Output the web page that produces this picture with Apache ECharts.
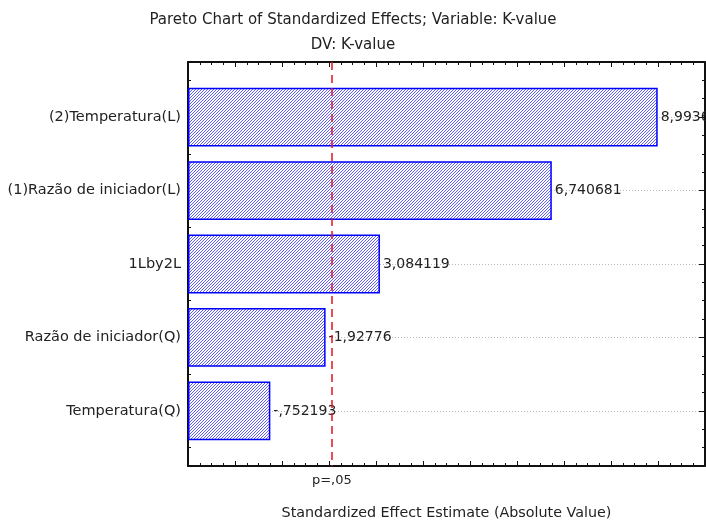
<!DOCTYPE html>
<html><head><meta charset="utf-8">
<script src="https://cdn.jsdelivr.net/npm/echarts@6/dist/echarts.min.js"></script>
<style>html,body{margin:0;padding:0;background:#fff}#c{width:706px;height:521px}</style>
</head><body><div id="c"></div>
<script>
// ---- data ----
const categories = ['(2)Temperatura(L)', '(1)Razão de iniciador(L)', '1Lby2L', 'Razão de iniciador(Q)', 'Temperatura(Q)'];
const effects = [8.9936, 6.740681, 3.084119, -1.92776, -0.752193];
const pCritical = 2.056;
const pLabel = 'p=,05';
const titleText = 'Pareto Chart of Standardized Effects; Variable: K-value';
const subTitleText = 'DV: K-value';
const xName = 'Standardized Effect Estimate (Absolute Value)';
const xMin = -1, xMax = 10;
const catTicks = categories.map((c, i) => i + 1);

function fmt(v) {
  return String(v).replace(/^(-?)0\./, '$1.').replace('.', ',');
}
const barLabels = effects.map(fmt);
const barValues = effects.map(Math.abs);

// ---- layout ----
const FONT = 'DejaVu Sans';
const gLeft = 188, gTop = 62, gRight = 1, gBottom = 55;
const gHeight = 521 - gTop - gBottom;
const pad = gHeight / (categories.length + 0.5) * 0.25;

// hatch pattern
const pc = document.createElement('canvas');
pc.width = 3; pc.height = 3;
const g = pc.getContext('2d');
g.fillStyle = '#ffffff'; g.fillRect(0, 0, 3, 3);
g.fillStyle = '#5c5cff';
for (let i = 0; i < 3; i++) g.fillRect(i, 2 - i, 1, 1);

const chart = echarts.init(document.getElementById('c'), null, {renderer: 'canvas'});
const lineBlack = {show: true, onZero: false, lineStyle: {color: '#111', width: 2}};
const yMinor = (pos) => ({
  gridIndex: 0, type: 'value', min: 0.25, max: categories.length + 0.75, interval: 0.25, inverse: true, position: pos,
  axisLine: {show: false, onZero: false}, axisTick: {show: true, inside: true, length: 3, lineStyle: {color: '#111'}},
  axisLabel: {show: false}, splitLine: {show: false}
});
const xBase = (pos) => ({
  gridIndex: 0, type: 'value', min: xMin, max: xMax, interval: 1, position: pos,
  axisLine: lineBlack,
  axisTick: {show: true, inside: true, length: 5, lineStyle: {color: '#111'}},
  minorTick: {show: true, splitNumber: 4, length: 3, lineStyle: {color: '#111'}},
  axisLabel: {show: false}, splitLine: {show: false}, minorSplitLine: {show: false}
});

chart.setOption({
  animation: false,
  backgroundColor: '#fff',
  title: [
    {text: titleText, left: 'center', top: 8, textStyle: {fontFamily: FONT, fontSize: 15, fontWeight: 'normal', color: '#222'}},
    {text: subTitleText, left: 'center', top: 33, textStyle: {fontFamily: FONT, fontSize: 15, fontWeight: 'normal', color: '#222'}}
  ],
  grid: [
    {left: gLeft, top: gTop, right: gRight, bottom: gBottom, show: false, containLabel: false, outerBoundsMode: 'none'},
    {left: gLeft, top: gTop + pad, right: gRight, bottom: gBottom + pad, show: false, containLabel: false, outerBoundsMode: 'none'}
  ],
  xAxis: [
    Object.assign(xBase('bottom'), {name: xName, nameLocation: 'middle', nameGap: 40,
      nameTextStyle: {fontFamily: FONT, fontSize: 14.3, color: '#222'}}),
    xBase('top'),
    {gridIndex: 1, type: 'value', min: xMin, max: xMax, startValue: xMin, show: false}
  ],
  yAxis: [
    {gridIndex: 0, type: 'value', min: 0.25, max: categories.length + 0.75, inverse: true, position: 'left',
      axisLine: lineBlack,
      axisTick: {show: true, inside: true, length: 6, customValues: catTicks, lineStyle: {color: '#111'}},
      axisLabel: {show: true, customValues: catTicks, margin: 7, fontFamily: FONT, fontSize: 14.5, color: '#222',
        formatter: v => categories[Math.round(v) - 1] || ''},
      splitLine: {show: true, lineStyle: {color: '#bbb', type: [1, 2], width: 1}}},
    yMinor('left'),
    {gridIndex: 0, type: 'value', min: 0.25, max: categories.length + 0.75, inverse: true, position: 'right',
      axisLine: lineBlack,
      axisTick: {show: true, inside: true, length: 6, customValues: catTicks, lineStyle: {color: '#111'}},
      axisLabel: {show: false}, splitLine: {show: false}},
    yMinor('right'),
    {gridIndex: 1, type: 'category', data: categories, inverse: true, show: false}
  ],
  series: [
    {
      type: 'bar', xAxisIndex: 2, yAxisIndex: 4, data: barValues, barWidth: '80%', z: 2,
      itemStyle: {color: {image: pc, repeat: 'repeat'}, borderColor: '#0000ff', borderWidth: 1.5},
      label: {show: true, position: 'right', distance: 3, fontFamily: FONT, fontSize: 14, color: '#222',
        formatter: p => barLabels[p.dataIndex]}
    },
    {
      type: 'line', xAxisIndex: 0, yAxisIndex: 0, data: [], z: 5,
      markLine: {
        silent: true, symbol: 'none',
        lineStyle: {color: '#e3141e', type: [8, 5], width: 1.5},
        label: {show: true, position: 'end', distance: 8, formatter: pLabel, fontFamily: FONT, fontSize: 13, color: '#222'},
        data: [{xAxis: pCritical}]
      }
    }
  ]
});
</script>
</body></html>
